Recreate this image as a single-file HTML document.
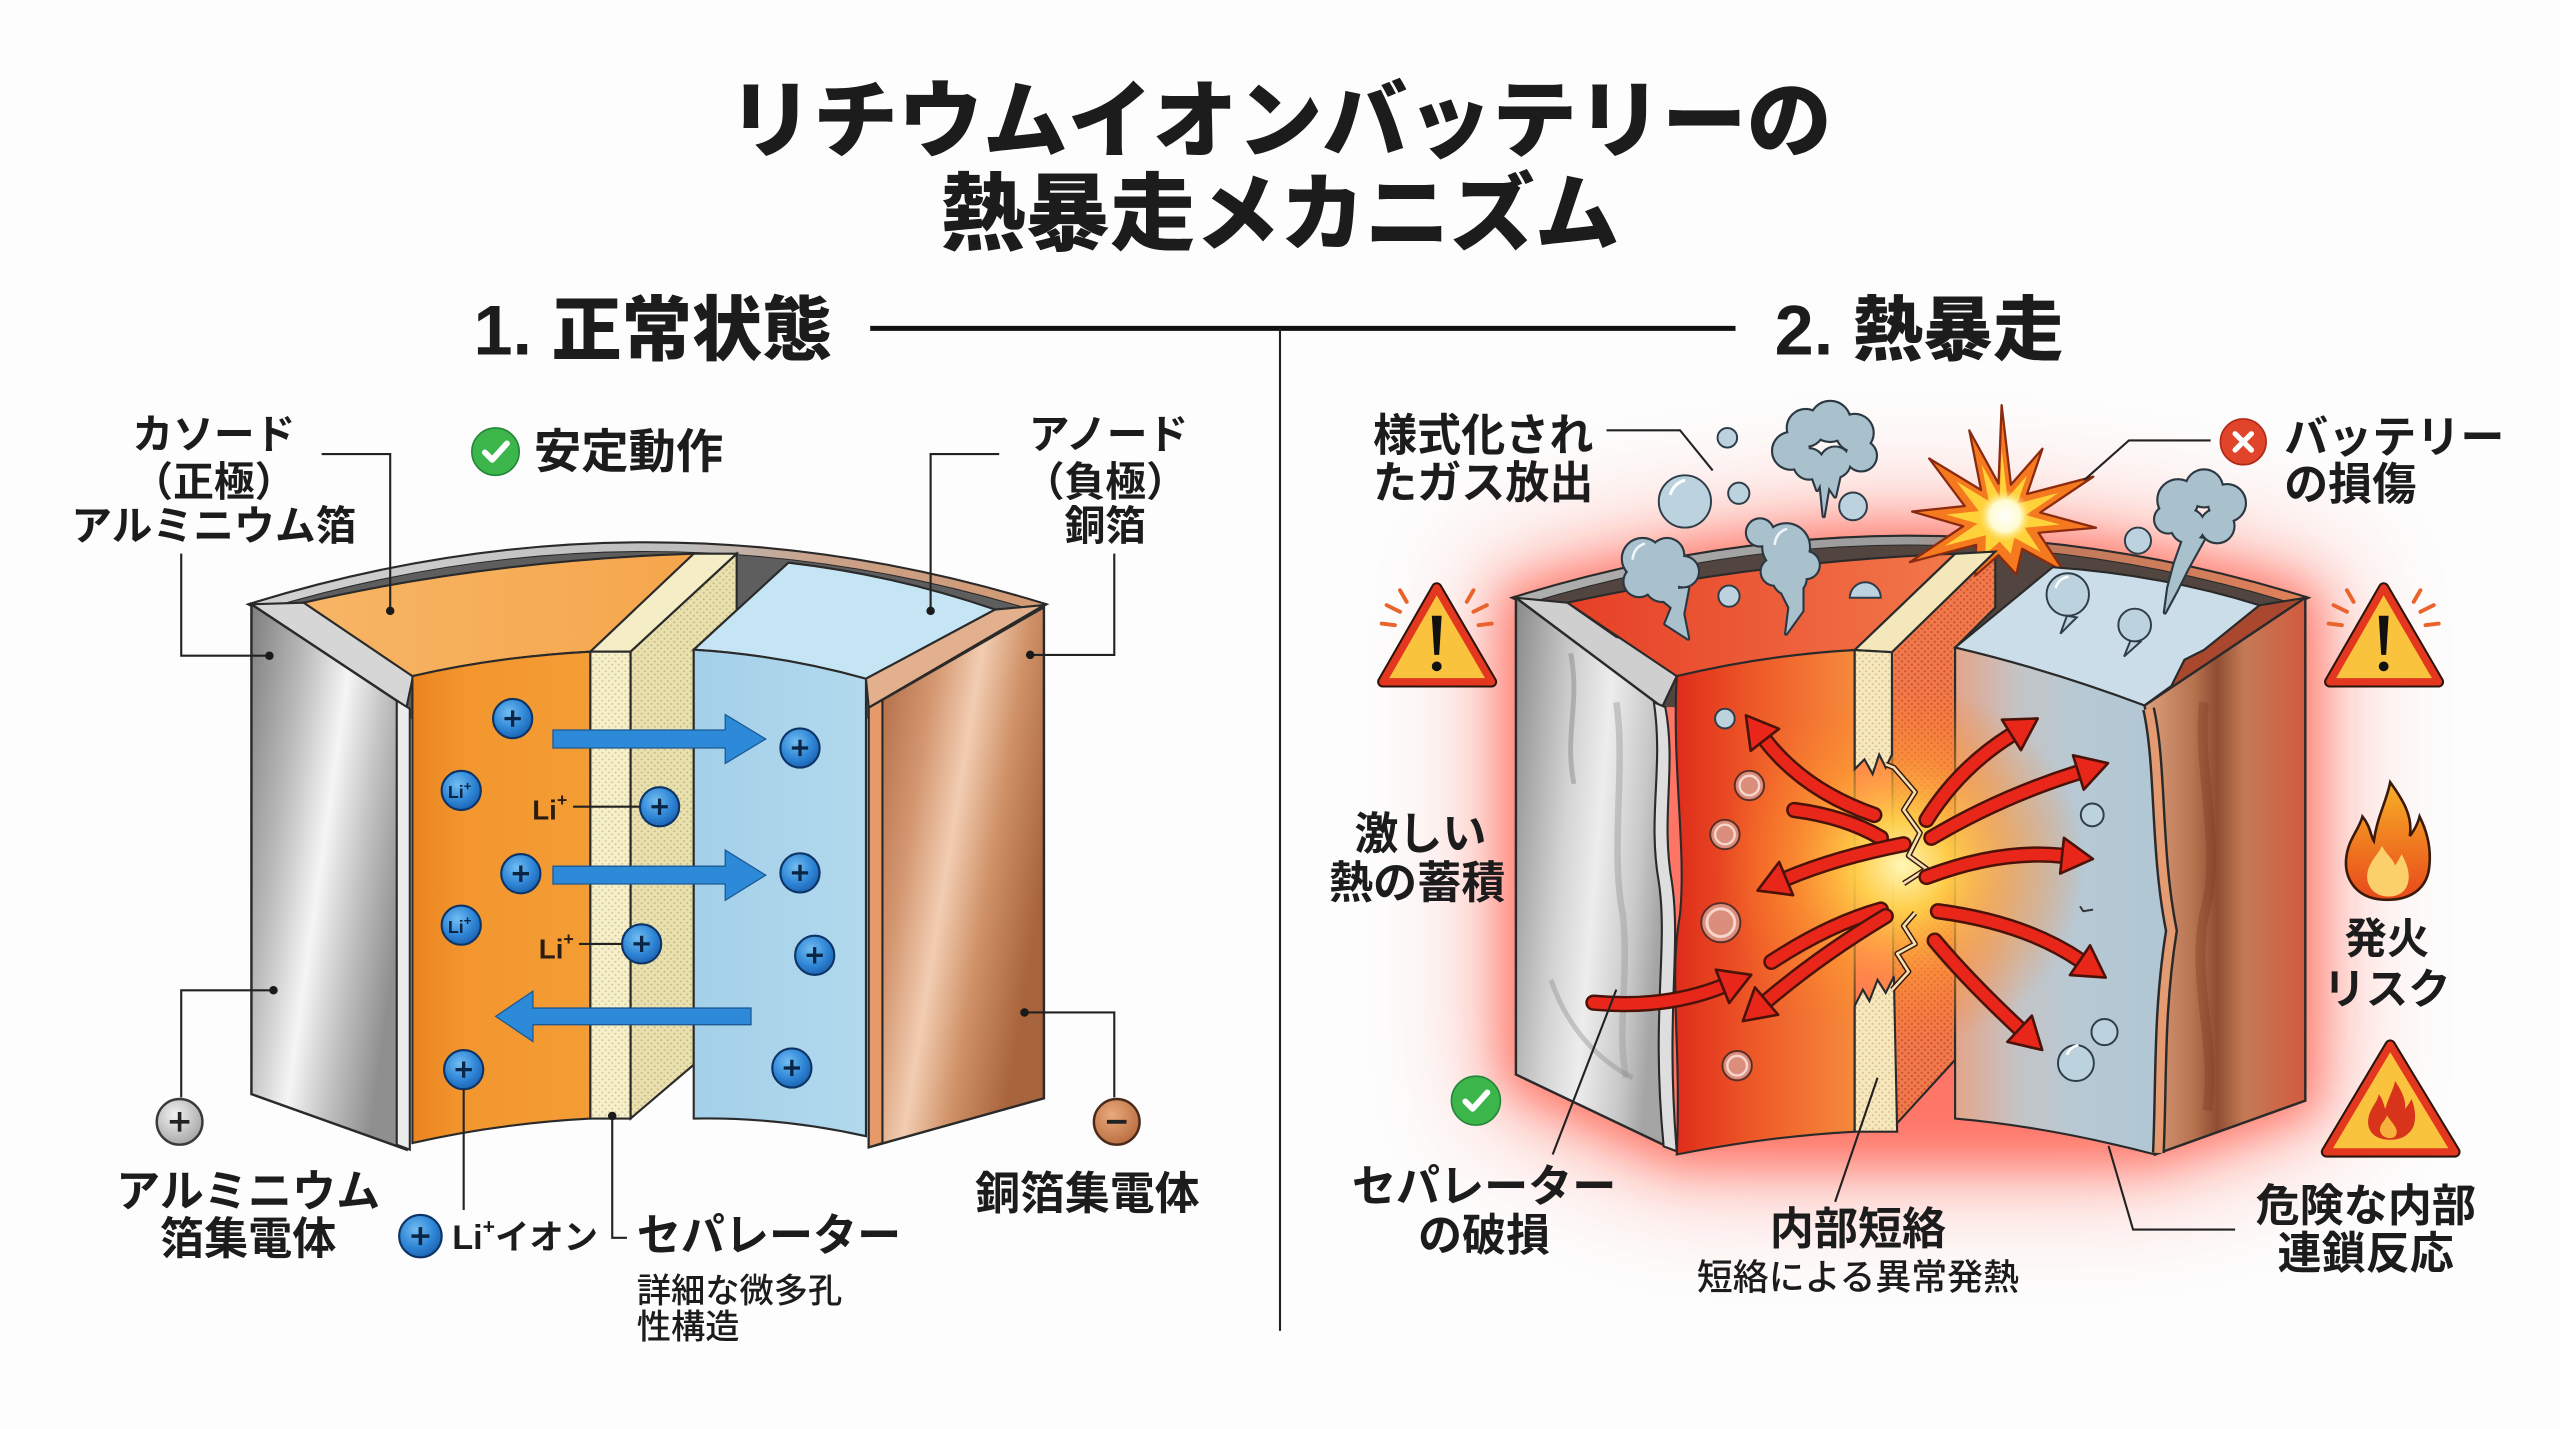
<!DOCTYPE html>
<html><head><meta charset="utf-8">
<style>
html,body{margin:0;padding:0;background:#fdfdfd;}
svg{display:block;}
text{font-family:"Liberation Sans","Noto Sans CJK JP",sans-serif;fill:#1c1c1c;font-weight:700;dominant-baseline:central;}
.ln{fill:none;stroke:#222;stroke-width:1.3;}
.ao{fill:none;stroke:#4a1208;stroke-width:10;stroke-linecap:round;}
.ai{fill:none;stroke:#e8261a;stroke-width:7;stroke-linecap:round;}
.bub{fill:#bcd2df;stroke:#2e3d48;stroke-width:1.2;}
.pbub{fill:#dc8e7c;stroke:#5a2e26;stroke-width:1.2;}
.cl{fill:#a9c0cd;stroke:#2b3842;stroke-width:2.6;stroke-linejoin:round;}
.cf{fill:#a9c0cd;}
.hl{fill:none;stroke:#eef6fa;stroke-width:1.6;stroke-linecap:round;}
.ol{stroke:#2a2a2a;stroke-width:1.3;}
</style></head><body>
<svg width="2560" height="1429" viewBox="0 0 1568 875" xmlns="http://www.w3.org/2000/svg">
<defs>
 <linearGradient id="gAl" x1="0" y1="0" x2="1" y2="0.5"><stop offset="0" stop-color="#7e7e7e"/><stop offset=".3" stop-color="#b9b9b9"/><stop offset=".55" stop-color="#f5f5f5"/><stop offset=".75" stop-color="#c4c4c4"/><stop offset="1" stop-color="#8f8f8f"/></linearGradient>
 <linearGradient id="gCu" x1="0" y1="0" x2="1" y2="0.5"><stop offset="0" stop-color="#a45d35"/><stop offset=".35" stop-color="#d39670"/><stop offset=".55" stop-color="#f2cdb2"/><stop offset=".75" stop-color="#cf9167"/><stop offset="1" stop-color="#a8643c"/></linearGradient>
 <linearGradient id="gOrF" x1="0" y1="0" x2="1" y2="0"><stop offset="0" stop-color="#ea8420"/><stop offset=".3" stop-color="#f3962e"/><stop offset="1" stop-color="#f49d35"/></linearGradient>
 <linearGradient id="gOrT" x1="0" y1="0" x2="1" y2="0"><stop offset="0" stop-color="#f7b565"/><stop offset="1" stop-color="#f5a64c"/></linearGradient>
 <linearGradient id="gBlF" x1="0" y1="0" x2="1" y2="0"><stop offset="0" stop-color="#a4d0e9"/><stop offset="1" stop-color="#b2d9ed"/></linearGradient>
 <linearGradient id="gRim" gradientUnits="userSpaceOnUse" x1="154" y1="0" x2="641" y2="0"><stop offset="0" stop-color="#d2d2d2"/><stop offset=".55" stop-color="#bdbdbd"/><stop offset=".72" stop-color="#c9a088"/><stop offset="1" stop-color="#d39a74"/></linearGradient>
 <radialGradient id="gB" cx=".4" cy=".35" r=".7"><stop offset="0" stop-color="#72bdf2"/><stop offset=".6" stop-color="#2f86d6"/><stop offset="1" stop-color="#1a5fae"/></radialGradient>
 <radialGradient id="gGr" cx=".4" cy=".35" r=".7"><stop offset="0" stop-color="#f2f2f2"/><stop offset="1" stop-color="#a3a3a3"/></radialGradient>
 <radialGradient id="gCc" cx=".4" cy=".35" r=".7"><stop offset="0" stop-color="#e9aa7c"/><stop offset="1" stop-color="#b86b3d"/></radialGradient>
 <pattern id="dots" width="4" height="4" patternUnits="userSpaceOnUse"><rect width="4" height="4" fill="#f6efcb"/><circle cx="1" cy="1" r=".6" fill="#d3c68e"/><circle cx="3" cy="3" r=".6" fill="#d3c68e"/></pattern>
 <pattern id="dots2" width="4" height="4" patternUnits="userSpaceOnUse"><rect width="4" height="4" fill="#e9e0af"/><circle cx="1" cy="1" r=".6" fill="#c4b57a"/><circle cx="3" cy="3" r=".6" fill="#c4b57a"/></pattern>
 <pattern id="dotsR" width="4" height="4" patternUnits="userSpaceOnUse"><rect width="4" height="4" fill="#f07a4c"/><circle cx="1" cy="1" r=".7" fill="#d1502e"/><circle cx="3" cy="3" r=".7" fill="#d1502e"/></pattern>
 <pattern id="dotsC" width="4" height="4" patternUnits="userSpaceOnUse"><rect width="4" height="4" fill="#f6e8bd"/><circle cx="1" cy="1" r=".6" fill="#d8b98a"/><circle cx="3" cy="3" r=".6" fill="#d8b98a"/></pattern>
 <linearGradient id="gRAl" x1="0" y1="0" x2="1" y2="0.3"><stop offset="0" stop-color="#8a8a8a"/><stop offset=".4" stop-color="#d4d4d4"/><stop offset=".6" stop-color="#ededed"/><stop offset=".85" stop-color="#c8c8c8"/><stop offset="1" stop-color="#a5a5a5"/></linearGradient>
 <linearGradient id="gRRF" x1="0" y1="0" x2="1" y2="0"><stop offset="0" stop-color="#df2c1a"/><stop offset=".45" stop-color="#ee5a28"/><stop offset="1" stop-color="#f58a3c"/></linearGradient>
 <linearGradient id="gRRT" x1="0" y1="0" x2="1" y2="0"><stop offset="0" stop-color="#e63f26"/><stop offset="1" stop-color="#f2784a"/></linearGradient>
 <linearGradient id="gRBF" x1="0" y1="0" x2="1" y2="0"><stop offset="0" stop-color="#e3a58a"/><stop offset=".3" stop-color="#c4c4c6"/><stop offset=".6" stop-color="#b6c9d5"/><stop offset="1" stop-color="#b1c6d3"/></linearGradient>
 <linearGradient id="gRCu" x1="0" y1="0" x2="1" y2="0"><stop offset="0" stop-color="#dba07e"/><stop offset=".3" stop-color="#b87350"/><stop offset=".45" stop-color="#8f4d32"/><stop offset=".62" stop-color="#c47a56"/><stop offset="1" stop-color="#d35a3e"/></linearGradient>
 <linearGradient id="gRRim" gradientUnits="userSpaceOnUse" x1="926" y1="0" x2="1414" y2="0"><stop offset="0" stop-color="#b0b0b0"/><stop offset=".5" stop-color="#9a9a9a"/><stop offset=".68" stop-color="#c07a5c"/><stop offset="1" stop-color="#e0805a"/></linearGradient>
 <radialGradient id="gGlow" cx=".5" cy=".5" r=".5"><stop offset="0" stop-color="#fff7b8" stop-opacity="1"/><stop offset=".25" stop-color="#ffd24a" stop-opacity=".95"/><stop offset=".6" stop-color="#ff9a30" stop-opacity=".55"/><stop offset="1" stop-color="#ff7a20" stop-opacity="0"/></radialGradient>
 <radialGradient id="gCore" cx=".5" cy=".5" r=".5"><stop offset="0" stop-color="#ffffff"/><stop offset=".6" stop-color="#fffbd0"/><stop offset="1" stop-color="#ffe066" stop-opacity="0"/></radialGradient>
 <linearGradient id="gFl" x1="0" y1="0" x2="0" y2="1"><stop offset="0" stop-color="#f8b027"/><stop offset="1" stop-color="#e8481a"/></linearGradient>
 <filter id="bl1" x="-30%" y="-30%" width="160%" height="160%"><feGaussianBlur stdDeviation="14"/></filter>
 <filter id="bl2" x="-40%" y="-40%" width="180%" height="180%"><feGaussianBlur stdDeviation="32"/></filter>
 <marker id="ah" markerUnits="userSpaceOnUse" viewBox="-3 -14 26 28" markerWidth="26" markerHeight="28" refX="0" refY="0" orient="auto" overflow="visible"><path d="M0,-11 L19,0 L0,11 Z" fill="#e8261a" stroke="#4a1208" stroke-width="1.6" stroke-linejoin="round"/></marker>
</defs>

<rect width="1568" height="875" fill="#fdfdfd"/>

<!-- TITLE -->
<text x="784" y="74" font-size="52" text-anchor="middle" style="font-weight:900">リチウムイオンバッテリーの</text>
<text x="784" y="131" font-size="52" text-anchor="middle" style="font-weight:900">熱暴走メカニズム</text>
<text x="290" y="202" font-size="43" style="font-weight:900">1. 正常状態</text>
<text x="1087" y="202" font-size="43" style="font-weight:900">2. 熱暴走</text>
<line x1="533" y1="201" x2="1063" y2="201" stroke="#111" stroke-width="3"/>
<line x1="784" y1="201" x2="784" y2="815" stroke="#222" stroke-width="1.3"/>

<!-- ============ LEFT BATTERY ============ -->
<path d="M152,370 Q396,294 641,370 L633,374 Q396,302 160,374 Z" fill="url(#gRim)" class="ol"/>
<path d="M160,374 Q396,302 633,374 L540,440 L250,440 Z" fill="#5e5e5e"/>
<polygon points="154,370 186,369 253,414 249,433" fill="#d6d6d6" class="ol"/>
<polygon points="154,370 249,433 249,704 154,670" fill="url(#gAl)" stroke="#2a2a2a" stroke-width="1.5"/>
<polygon points="243,429 251,434 251,704 243,701" fill="#ececec" class="ol"/>
<path d="M186,369 Q300,343 425,339 L361.6,399 Q305,402 252.6,414 Z" fill="url(#gOrT)" class="ol"/>
<path d="M252.6,414 Q305,402 361.6,399 L361.6,685 Q305,688 252.6,700 Z" fill="url(#gOrF)" class="ol"/>
<polygon points="386.2,399 451.2,339 451.2,373.6 424.9,397.8 424.9,652 386.2,685" fill="url(#dots2)" class="ol"/>
<polygon points="361.6,399 386.2,399 451.2,339 424.9,339" fill="#f4edc6" class="ol"/>
<rect x="361.6" y="399" width="24.6" height="286" fill="url(#dots)" class="ol"/>
<path d="M424.9,397.8 L482.9,344.5 Q548,352 609.5,373.2 L530.4,415.6 Q478,401 424.9,397.8 Z" fill="#c6e5f4" class="ol"/>
<path d="M424.9,397.8 Q478,401 530.4,415.6 L530.4,695.8 Q478,684 424.9,685 Z" fill="url(#gBlF)" class="ol"/>
<polygon points="609.5,373.2 639.4,370.5 532.1,433.3 530.4,415.6" fill="#e3b08e" class="ol"/>
<polygon points="532.1,433.3 639.4,371.8 639.4,672.6 532.1,702.6" fill="url(#gCu)" stroke="#2a2a2a" stroke-width="1.5"/>
<polygon points="532.1,433.3 540.5,428.5 540.5,700 532.1,702.6" fill="#e69a6a" class="ol"/>

<!-- blue arrows -->
<g fill="#2d8ad8" stroke="#1d5a94" stroke-width=".8">
 <path d="M338.7,447 H444.2 V437.5 L469,452.5 L444.2,467.5 V458 H338.7 Z"/>
 <path d="M338.7,530.4 H444.2 V520.5 L469,535.9 L444.2,551.3 V541.3 H338.7 Z"/>
 <path d="M460,617.3 H326.4 V607 L303.6,622.4 L326.4,637.8 V627.5 H460 Z"/>
</g>

<!-- ion circles -->
<g>
 <g transform="translate(314,440)"><circle r="12" fill="url(#gB)" stroke="#0d3466" stroke-width="1.3"/><path d="M-5,0H5M0,-5V5" stroke="#0b2545" stroke-width="2"/></g>
 <g transform="translate(490,458)"><circle r="12" fill="url(#gB)" stroke="#0d3466" stroke-width="1.3"/><path d="M-5,0H5M0,-5V5" stroke="#0b2545" stroke-width="2"/></g>
 <g transform="translate(404,494)"><circle r="12" fill="url(#gB)" stroke="#0d3466" stroke-width="1.3"/><path d="M-5,0H5M0,-5V5" stroke="#0b2545" stroke-width="2"/></g>
 <g transform="translate(319,535)"><circle r="12" fill="url(#gB)" stroke="#0d3466" stroke-width="1.3"/><path d="M-5,0H5M0,-5V5" stroke="#0b2545" stroke-width="2"/></g>
 <g transform="translate(490,534.5)"><circle r="12" fill="url(#gB)" stroke="#0d3466" stroke-width="1.3"/><path d="M-5,0H5M0,-5V5" stroke="#0b2545" stroke-width="2"/></g>
 <g transform="translate(393,578)"><circle r="12" fill="url(#gB)" stroke="#0d3466" stroke-width="1.3"/><path d="M-5,0H5M0,-5V5" stroke="#0b2545" stroke-width="2"/></g>
 <g transform="translate(499,585)"><circle r="12" fill="url(#gB)" stroke="#0d3466" stroke-width="1.3"/><path d="M-5,0H5M0,-5V5" stroke="#0b2545" stroke-width="2"/></g>
 <g transform="translate(284,655)"><circle r="12" fill="url(#gB)" stroke="#0d3466" stroke-width="1.3"/><path d="M-5,0H5M0,-5V5" stroke="#0b2545" stroke-width="2"/></g>
 <g transform="translate(485,654)"><circle r="12" fill="url(#gB)" stroke="#0d3466" stroke-width="1.3"/><path d="M-5,0H5M0,-5V5" stroke="#0b2545" stroke-width="2"/></g>
 <g transform="translate(282.5,484)"><circle r="12" fill="url(#gB)" stroke="#0d3466" stroke-width="1.3"/><text x="-1" y="1" font-size="11" text-anchor="middle" style="fill:#0b2545">Li<tspan dy="-4" font-size="8">+</tspan></text></g>
 <g transform="translate(282.5,566.5)"><circle r="12" fill="url(#gB)" stroke="#0d3466" stroke-width="1.3"/><text x="-1" y="1" font-size="11" text-anchor="middle" style="fill:#0b2545">Li<tspan dy="-4" font-size="8">+</tspan></text></g>
</g>
<text x="326" y="496" font-size="17" style="fill:#2a1c10">Li<tspan dy="-6" font-size="11">+</tspan></text>
<line x1="351" y1="494" x2="391.5" y2="494" class="ln"/>
<text x="330" y="581" font-size="17" style="fill:#2a1c10">Li<tspan dy="-6" font-size="11">+</tspan></text>
<line x1="354.6" y1="578" x2="381" y2="578" class="ln"/>

<!-- left connectors -->
<path d="M197,278 H239 V374" class="ln"/>
<path d="M111,339 V401.5 H165" class="ln"/>
<path d="M612,278 H570 V374" class="ln"/>
<path d="M682.5,339 V401 H631" class="ln"/>
<path d="M167.5,606.4 H111 V672" class="ln"/>
<path d="M627.5,620 H682.5 V672" class="ln"/>
<path d="M284,667 V741" class="ln"/>
<path d="M375,683.4 V758 H384" class="ln"/>
<g fill="#1a1a1a">
 <circle cx="239" cy="374" r="2.6"/><circle cx="165" cy="401.5" r="2.6"/><circle cx="570" cy="374" r="2.6"/><circle cx="631" cy="401" r="2.6"/>
 <circle cx="167.5" cy="606.4" r="2.6"/><circle cx="627.5" cy="620" r="2.6"/><circle cx="375" cy="683.4" r="2.6"/>
</g>

<!-- terminal circles -->
<g transform="translate(110,687)"><circle r="14" fill="url(#gGr)" stroke="#3a3a3a" stroke-width="1.5"/><path d="M-6,0H6M0,-6V6" stroke="#222" stroke-width="2.2"/></g>
<g transform="translate(684,687)"><circle r="14" fill="url(#gCc)" stroke="#4a2a1a" stroke-width="1.5"/><path d="M-6,0H6" stroke="#222" stroke-width="2.4"/></g>
<g transform="translate(257.5,757)"><circle r="13" fill="url(#gB)" stroke="#0d3466" stroke-width="1.3"/><path d="M-5.5,0H5.5M0,-5.5V5.5" stroke="#0b2545" stroke-width="2.2"/></g>

<!-- green check -->
<g transform="translate(303.5,276.5)"><circle r="14.5" fill="#3cb54a" stroke="#23863a" stroke-width="1"/><path d="M-6.5,0.5 L-2,5 L7,-5" fill="none" stroke="#fff" stroke-width="3.6" stroke-linecap="round" stroke-linejoin="round"/></g>

<!-- left labels -->
<text x="131" y="266" font-size="25" text-anchor="middle">カソード</text>
<text x="131" y="295" font-size="25" text-anchor="middle">（正極）</text>
<text x="131" y="322" font-size="25" text-anchor="middle">アルミニウム箔</text>
<text x="679" y="266" font-size="25" text-anchor="middle">アノード</text>
<text x="677" y="295" font-size="25" text-anchor="middle">（負極）</text>
<text x="677" y="322" font-size="25" text-anchor="middle">銅箔</text>
<text x="327" y="277" font-size="29">安定動作</text>
<text x="152" y="730" font-size="27" text-anchor="middle">アルミニウム</text>
<text x="152" y="759" font-size="27" text-anchor="middle">箔集電体</text>
<text x="666" y="731" font-size="27.5" text-anchor="middle">銅箔集電体</text>
<text x="277" y="758" font-size="21">Li<tspan dy="-7" font-size="13">+</tspan><tspan dy="7">イオン</tspan></text>
<text x="390" y="757" font-size="27">セパレーター</text>
<text x="390" y="791" font-size="21" style="font-weight:500">詳細な微多孔</text>
<text x="390" y="813" font-size="21" style="font-weight:500">性構造</text>

<!-- ============ RIGHT BATTERY ============ -->
<path d="M905,350 Q1170,262 1435,350 L1435,690 L1320,730 L1025,730 L905,680 Z" fill="#ff4a36" opacity="0.35" filter="url(#bl2)"/>
<path d="M920,362 Q1170,282 1420,362 L1420,680 L1320,714 L1025,714 L920,664 Z" fill="#ff3a28" opacity="0.55" filter="url(#bl1)"/>

<path d="M926,366 Q1170,290 1414,366 L1405,370 Q1170,298 935,370 Z" fill="url(#gRRim)" class="ol"/>
<path d="M935,370 Q1170,298 1405,370 L1313,432 L1018,433 Z" fill="#524540"/>
<polygon points="928.5,366 960,369 990,390 1002,393 1027,414 1018,433" fill="#cfcfcf" class="ol"/>
<path d="M928.5,366 L1018,433 C1024,470 1014,500 1021,540 C1027,580 1016,620 1025,704 L928.5,658 Z" fill="url(#gRAl)" stroke="#2a2a2a" stroke-width="1.5"/>
<path d="M962,400 C968,430 958,450 964,480" fill="none" stroke="#8a8a8a" stroke-width="3" opacity=".5"/>
<path d="M990,430 C996,470 986,520 994,560 C998,600 990,630 996,660" fill="none" stroke="#9a9a9a" stroke-width="4" opacity=".45"/>
<path d="M950,600 C960,630 980,650 1000,660" fill="none" stroke="#8a8a8a" stroke-width="3" opacity=".4"/>
<path d="M1013,430 C1019,470 1009,500 1016,540 C1022,580 1011,620 1019,702 L1027,705 C1020,620 1030,580 1024,540 C1017,500 1027,470 1020,433 Z" fill="#dedede" class="ol"/>

<path d="M960,369 Q1075,344 1197.5,339 L1136,398 Q1082,401 1027,414 Z" fill="url(#gRRT)" class="ol"/>
<path d="M1027,414 Q1082,401 1136,398 L1136,693 Q1082,696 1027,707 C1030,640 1022,600 1029,560 C1033,520 1024,470 1027,414 Z" fill="url(#gRRF)" class="ol"/>
<polygon points="1158.8,399.3 1222.1,337.7 1222.1,372 1197.5,396.5 1197.5,649 1160,690" fill="url(#dotsR)" class="ol"/>

<!-- explosion -->
<polygon points="1226,248 1231.7,296.7 1251,274.7 1241.6,302.4 1282.2,291.8 1249.6,313.8 1283.8,323.1 1248.6,326.2 1264.3,350.1 1238.6,336 1235,351.8 1224.1,339.9 1209.9,352.4 1210.4,333.6 1169.8,344.2 1202.4,322.2 1171.2,313.2 1203.4,309.8 1181.6,280.7 1213.4,300 1206.2,263.5 1224.1,296.1" fill="#f57a1f" stroke="#8a2a10" stroke-width="1.4" stroke-linejoin="round"/>
<polygon transform="translate(1226,318) scale(0.62) translate(-1226,-318)" points="1226,248 1231.7,296.7 1251,274.7 1241.6,302.4 1282.2,291.8 1249.6,313.8 1283.8,323.1 1248.6,326.2 1264.3,350.1 1238.6,336 1235,351.8 1224.1,339.9 1209.9,352.4 1210.4,333.6 1169.8,344.2 1202.4,322.2 1171.2,313.2 1203.4,309.8 1181.6,280.7 1213.4,300 1206.2,263.5 1224.1,296.1" fill="#ffd23a"/>
<circle cx="1228" cy="316" r="16" fill="url(#gCore)"/>

<polygon points="1136,398 1158.8,399.3 1222.1,337.7 1197.5,339.1" fill="#f3e7bb" class="ol"/>
<path d="M1197.5,396.5 L1257.3,347.3 Q1325,352 1383.9,370.6 L1350,398 L1338,404 L1330,420 L1313.5,432 Q1255,410 1197.5,396.5 Z" fill="#cbdde8" class="ol"/>
<path d="M1197.5,396.5 Q1255,410 1313.5,432 C1322,470 1318,520 1328,570 C1320,620 1322,660 1320,707 Q1255,690 1197.5,685 Z" fill="url(#gRBF)" class="ol"/>
<polygon points="1383.9,370.6 1412,366 1318,434 1313.5,432 1330,420 1338,404 1350,398" fill="#a9482f" class="ol"/>
<path d="M1313.5,432 L1412,366 L1412,674 L1320,707 C1322,660 1320,620 1328,570 C1318,520 1322,470 1313.5,432 Z" fill="url(#gRCu)" stroke="#2a2a2a" stroke-width="1.5"/>
<path d="M1350,430 C1345,470 1362,520 1350,560 C1342,600 1358,640 1352,680" fill="none" stroke="#7a3a22" stroke-width="6" opacity=".35"/>
<path d="M1316,434 C1324,470 1320,520 1330,570 C1322,620 1324,660 1322,706" fill="none" stroke="#2a2a2a" stroke-width="8"/>
<path d="M1316,434 C1324,470 1320,520 1330,570 C1322,620 1324,660 1322,706" fill="none" stroke="#e59b72" stroke-width="5"/>

<!-- central glow -->
<circle cx="1165" cy="530" r="112" fill="url(#gGlow)"/>

<!-- separator cream pieces -->
<polygon points="1136,398 1158.8,399.3 1158.8,462 1155,470 1151,462 1147,474 1142,465 1136,471" fill="url(#dotsC)" class="ol"/>
<polygon points="1136,616 1141,606 1145,613 1150,600 1155,608 1160,598 1162,693 1136,693" fill="url(#dotsC)" class="ol"/>
<polyline points="1155,468 1160,470 1173,485 1166,496 1176,510 1169,524 1180,532 1166,541" fill="none" stroke="#3a1a10" stroke-width="3.4" stroke-linejoin="round"/>
<polyline points="1155,468 1160,470 1173,485 1166,496 1176,510 1169,524 1180,532 1166,541" fill="none" stroke="#f6e2b0" stroke-width="1.6" stroke-linejoin="round"/>
<polyline points="1173,559 1166,567 1173,578 1162,584 1169,595 1159,606" fill="none" stroke="#3a1a10" stroke-width="3.4" stroke-linejoin="round"/>
<polyline points="1173,559 1166,567 1173,578 1162,584 1169,595 1159,606" fill="none" stroke="#f6e2b0" stroke-width="1.6" stroke-linejoin="round"/>

<!-- bubbles on faces -->
<circle cx="1056.5" cy="440" r="6" class="bub"/>
<circle cx="1071.5" cy="481" r="9" class="pbub"/><circle cx="1071.5" cy="481" r="6" fill="none" stroke="#f6d6cc" stroke-width="1.5"/>
<circle cx="1056.5" cy="511" r="9" class="pbub"/><circle cx="1056.5" cy="511" r="6" fill="none" stroke="#f6d6cc" stroke-width="1.5"/>
<circle cx="1054" cy="565" r="12" class="pbub"/><circle cx="1054" cy="565" r="8.5" fill="none" stroke="#f6d6cc" stroke-width="1.8"/>
<circle cx="1064" cy="652.6" r="9" class="pbub"/><circle cx="1064" cy="652.6" r="6" fill="none" stroke="#f6d6cc" stroke-width="1.5"/>
<circle cx="1281.5" cy="499" r="7" class="bub"/>
<circle cx="1289" cy="632" r="8" class="bub"/>
<circle cx="1271.5" cy="651" r="11" class="bub"/>
<path d="M1266,646 Q1268,641 1273,640" fill="none" stroke="#fff" stroke-width="1.5"/>
<path d="M1274,555 L1276,558 L1282,557" fill="none" stroke="#333" stroke-width="1.2"/>

<!-- red arrows -->
<g>
 <path class="ao" d="M1099,496 Q1130,500 1152,513"/><path class="ai" d="M1099,496 Q1130,500 1152,513"/>
 <path class="ao" d="M1085,589 Q1120,566 1152,557"/><path class="ai" d="M1085,589 Q1120,566 1152,557"/>
 <path class="ao" d="M1148,499 Q1105,484 1081,453"/><path class="ai" d="M1148,499 Q1105,484 1081,453" marker-end="url(#ah)"/>
 <path class="ao" d="M1166,517 Q1125,525 1094,538"/><path class="ai" d="M1166,517 Q1125,525 1094,538" marker-end="url(#ah)"/>
 <path class="ao" d="M1155,561 Q1115,585 1082,613"/><path class="ai" d="M1155,561 Q1115,585 1082,613" marker-end="url(#ah)"/>
 <path class="ao" d="M976,614 Q1020,618 1055,604"/><path class="ai" d="M976,614 Q1020,618 1055,604" marker-end="url(#ah)"/>
 <path class="ao" d="M1180,502 Q1200,470 1232,450"/><path class="ai" d="M1180,502 Q1200,470 1232,450" marker-end="url(#ah)"/>
 <path class="ao" d="M1183,513 Q1225,488 1273,473"/><path class="ai" d="M1183,513 Q1225,488 1273,473" marker-end="url(#ah)"/>
 <path class="ao" d="M1180,537 Q1225,520 1263,524"/><path class="ai" d="M1180,537 Q1225,520 1263,524" marker-end="url(#ah)"/>
 <path class="ao" d="M1187,558 Q1240,565 1274,588"/><path class="ai" d="M1187,558 Q1240,565 1274,588" marker-end="url(#ah)"/>
 <path class="ao" d="M1185,576 Q1205,600 1237,630"/><path class="ai" d="M1185,576 Q1205,600 1237,630" marker-end="url(#ah)"/>
</g>

<!-- smoke clouds -->
<g>
 <!-- top cloud -->
 <g class="cl"><circle cx="1097" cy="276" r="11"/><circle cx="1106" cy="262" r="11"/><circle cx="1121" cy="258" r="12"/><circle cx="1136" cy="265" r="11"/><circle cx="1140" cy="279" r="9"/><circle cx="1124" cy="283" r="9"/><circle cx="1108" cy="284" r="9"/><polygon points="1108,286 1113,300 1115,296 1117,316 1120,298 1124,304 1128,286"/></g>
 <g class="cf"><circle cx="1097" cy="276" r="11"/><circle cx="1106" cy="262" r="11"/><circle cx="1121" cy="258" r="12"/><circle cx="1136" cy="265" r="11"/><circle cx="1140" cy="279" r="9"/><circle cx="1124" cy="283" r="9"/><circle cx="1108" cy="284" r="9"/><polygon points="1108,286 1113,300 1115,296 1117,316 1120,298 1124,304 1128,286"/></g>

 <!-- left cloud -->
 <g class="cl"><circle cx="1006" cy="342" r="12"/><circle cx="1021" cy="340" r="10"/><circle cx="1031" cy="350" r="9"/><circle cx="1018" cy="358" r="10"/><circle cx="1004" cy="356" r="9"/><polygon points="1012,362 1024,372 1020,382 1034,391 1031,376 1034,360"/></g>
 <g class="cf"><circle cx="1006" cy="342" r="12"/><circle cx="1021" cy="340" r="10"/><circle cx="1031" cy="350" r="9"/><circle cx="1018" cy="358" r="10"/><circle cx="1004" cy="356" r="9"/><polygon points="1012,362 1024,372 1020,382 1034,391 1031,376 1034,360"/></g>
 <path class="hl" d="M1000,342 Q1001,335 1007,333"/>

 <!-- cloud 2 -->
 <g class="cl"><circle cx="1094" cy="335" r="14"/><circle cx="1078" cy="326" r="8"/><circle cx="1106" cy="346" r="8"/><circle cx="1096" cy="354" r="10"/><circle cx="1087" cy="350" r="8"/><polygon points="1090,360 1096,372 1094,388 1104,374 1104,360"/></g>
 <g class="cf"><circle cx="1094" cy="335" r="14"/><circle cx="1078" cy="326" r="8"/><circle cx="1106" cy="346" r="8"/><circle cx="1096" cy="354" r="10"/><circle cx="1087" cy="350" r="8"/><polygon points="1090,360 1096,372 1094,388 1104,374 1104,360"/></g>
 <path class="hl" d="M1087,333 Q1088,326 1094,324"/>

 <!-- right cloud -->
 <g class="cl"><circle cx="1334" cy="306" r="12"/><circle cx="1350" cy="299" r="11"/><circle cx="1364" cy="308" r="11"/><circle cx="1358" cy="322" r="10"/><circle cx="1340" cy="322" r="10"/><circle cx="1328" cy="318" r="8"/><polygon points="1338,328 1332,345 1328,360 1326,375 1333,362 1340,348 1350,330"/></g>
 <g class="cf"><circle cx="1334" cy="306" r="12"/><circle cx="1350" cy="299" r="11"/><circle cx="1364" cy="308" r="11"/><circle cx="1358" cy="322" r="10"/><circle cx="1340" cy="322" r="10"/><circle cx="1328" cy="318" r="8"/><polygon points="1338,328 1332,345 1328,360 1326,375 1333,362 1340,348 1350,330"/></g>
</g>
<!-- top bubbles -->
<circle cx="1058" cy="268" r="6" class="bub"/>
<circle cx="1032" cy="307" r="16" class="bub"/><path d="M1023,303 Q1025,296 1032,294" fill="none" stroke="#fff" stroke-width="1.8"/>
<circle cx="1065" cy="302" r="6.5" class="bub"/>
<circle cx="1135" cy="310" r="8.5" class="bub"/>
<circle cx="1059" cy="365" r="6.5" class="bub"/>
<path d="M1133,366 A9.5,9.5 0 0 1 1152,366 Z" class="bub"/>
<circle cx="1309.5" cy="331" r="8" class="bub"/>
<path d="M1266,377 L1262,388 L1272,378 Z" class="bub"/>
<circle cx="1266.5" cy="364" r="13" class="bub"/><path d="M1259,360 Q1261,354 1267,353" fill="none" stroke="#fff" stroke-width="1.5"/>
<path d="M1305,392 L1301,402 L1311,393 Z" class="bub"/>
<circle cx="1307.5" cy="382.7" r="10" class="bub"/>

<!-- warning triangles -->
<g>
 <polygon points="880,360 847,417.5 913.5,417.5" fill="#f9c33d" stroke="#2b140c" stroke-width="7" stroke-linejoin="round"/>
 <polygon points="880,360 847,417.5 913.5,417.5" fill="#f9c33d" stroke="#e3381f" stroke-width="4.5" stroke-linejoin="round"/>
 <path d="M877,377 L883,377 L881.5,401 L878.5,401 Z" fill="#111"/><circle cx="880" cy="408" r="3" fill="#111"/>
 <g stroke="#e8642c" stroke-width="2.4" stroke-linecap="round"><line x1="857.5" y1="361.4" x2="861.6" y2="368.5"/><line x1="849.3" y1="370.5" x2="857.5" y2="374.6"/><line x1="846.3" y1="381.8" x2="854.4" y2="382.8"/><line x1="902.5" y1="361.4" x2="898.4" y2="368.5"/><line x1="910.7" y1="370.5" x2="902.5" y2="374.6"/><line x1="913.7" y1="381.8" x2="905.6" y2="382.8"/></g>
</g>
<g transform="translate(580,0)">
 <polygon points="880,360 847,417.5 913.5,417.5" fill="#f9c33d" stroke="#2b140c" stroke-width="7" stroke-linejoin="round"/>
 <polygon points="880,360 847,417.5 913.5,417.5" fill="#f9c33d" stroke="#e3381f" stroke-width="4.5" stroke-linejoin="round"/>
 <path d="M877,377 L883,377 L881.5,401 L878.5,401 Z" fill="#111"/><circle cx="880" cy="408" r="3" fill="#111"/>
 <g stroke="#e8642c" stroke-width="2.4" stroke-linecap="round"><line x1="857.5" y1="361.4" x2="861.6" y2="368.5"/><line x1="849.3" y1="370.5" x2="857.5" y2="374.6"/><line x1="846.3" y1="381.8" x2="854.4" y2="382.8"/><line x1="902.5" y1="361.4" x2="898.4" y2="368.5"/><line x1="910.7" y1="370.5" x2="902.5" y2="374.6"/><line x1="913.7" y1="381.8" x2="905.6" y2="382.8"/></g>
</g>
<!-- fire warning -->
<polygon points="1464,640 1425,705.4 1503.6,705.4" fill="#f9c33d" stroke="#2b140c" stroke-width="7" stroke-linejoin="round"/>
<polygon points="1464,640 1425,705.4 1503.6,705.4" fill="#f9c33d" stroke="#e3381f" stroke-width="4.5" stroke-linejoin="round"/>
<path d="M1464,698 C1452,698 1449,690 1451,683 C1453,677 1456,675 1457,670 C1460,674 1460,677 1461,679 C1463,672 1466,667 1467,662 C1471,668 1474,674 1473,679 C1475,677 1476,675 1477,673 C1480,680 1480,688 1477,692 C1474,696 1470,698 1464,698 Z" fill="#d8341c"/>
<path d="M1464,697 C1459,697 1457,693 1458,690 C1459,687 1461,686 1462,683 C1464,686 1466,688 1467,690 C1469,693 1468,697 1464,697 Z" fill="#f6b23a"/>
<!-- fire icon -->
<path d="M1462,551 C1443,551 1436,538 1437,526 C1438,514 1445,508 1447,500 C1452,506 1452,512 1454,515 C1456,500 1462,490 1464,479 C1472,490 1478,500 1476,512 C1479,508 1481,504 1482,500 C1487,510 1489,520 1488,530 C1487,543 1478,551 1462,551 Z" fill="url(#gFl)" stroke="#3a1a0a" stroke-width="1.6"/>
<path d="M1463,549 C1453,549 1449,541 1450,535 C1451,528 1456,524 1459,518 C1462,524 1466,526 1467,530 C1469,527 1470,525 1471,523 C1475,530 1476,536 1475,540 C1474,546 1469,549 1463,549 Z" fill="#fbcf6a"/>

<!-- green check / red x -->
<g transform="translate(904,674)"><circle r="15" fill="#3cb54a" stroke="#23863a" stroke-width="1"/><path d="M-6.5,0.5 L-2,5 L7,-5" fill="none" stroke="#fff" stroke-width="3.6" stroke-linecap="round" stroke-linejoin="round"/></g>
<g transform="translate(1374,270.5)"><circle r="14" fill="#e0452b" stroke="#b02a18" stroke-width="1"/><path d="M-5,-5 L5,5 M5,-5 L-5,5" stroke="#fff" stroke-width="3.2" stroke-linecap="round"/></g>

<!-- right connectors -->
<path d="M984,263.4 H1029 L1049,288" class="ln"/>
<path d="M1354,269.6 H1304 L1276.5,294" class="ln"/>
<path d="M990,606 L951,707" class="ln"/>
<path d="M1150,660 L1124,736" class="ln"/>
<path d="M1291.5,701.8 L1306.5,753 H1369" class="ln"/>

<!-- right labels -->
<text x="841" y="267" font-size="27">様式化され</text>
<text x="841" y="296" font-size="27">たガス放出</text>
<text x="1399" y="268" font-size="27">バッテリー</text>
<text x="1399" y="297" font-size="27">の損傷</text>
<text x="870" y="511" font-size="27" text-anchor="middle">激しい</text>
<text x="868" y="541" font-size="27" text-anchor="middle">熱の蓄積</text>
<text x="1462" y="575" font-size="26" text-anchor="middle">発火</text>
<text x="1462" y="606" font-size="26" text-anchor="middle">リスク</text>
<text x="909" y="727" font-size="27" text-anchor="middle">セパレーター</text>
<text x="909" y="757" font-size="27" text-anchor="middle">の破損</text>
<text x="1138" y="753" font-size="27" text-anchor="middle">内部短絡</text>
<text x="1138" y="782" font-size="22" text-anchor="middle" style="font-weight:500">短絡による異常発熱</text>
<text x="1449" y="739" font-size="27" text-anchor="middle">危険な内部</text>
<text x="1449" y="768" font-size="27" text-anchor="middle">連鎖反応</text>
</svg>
</body></html>
